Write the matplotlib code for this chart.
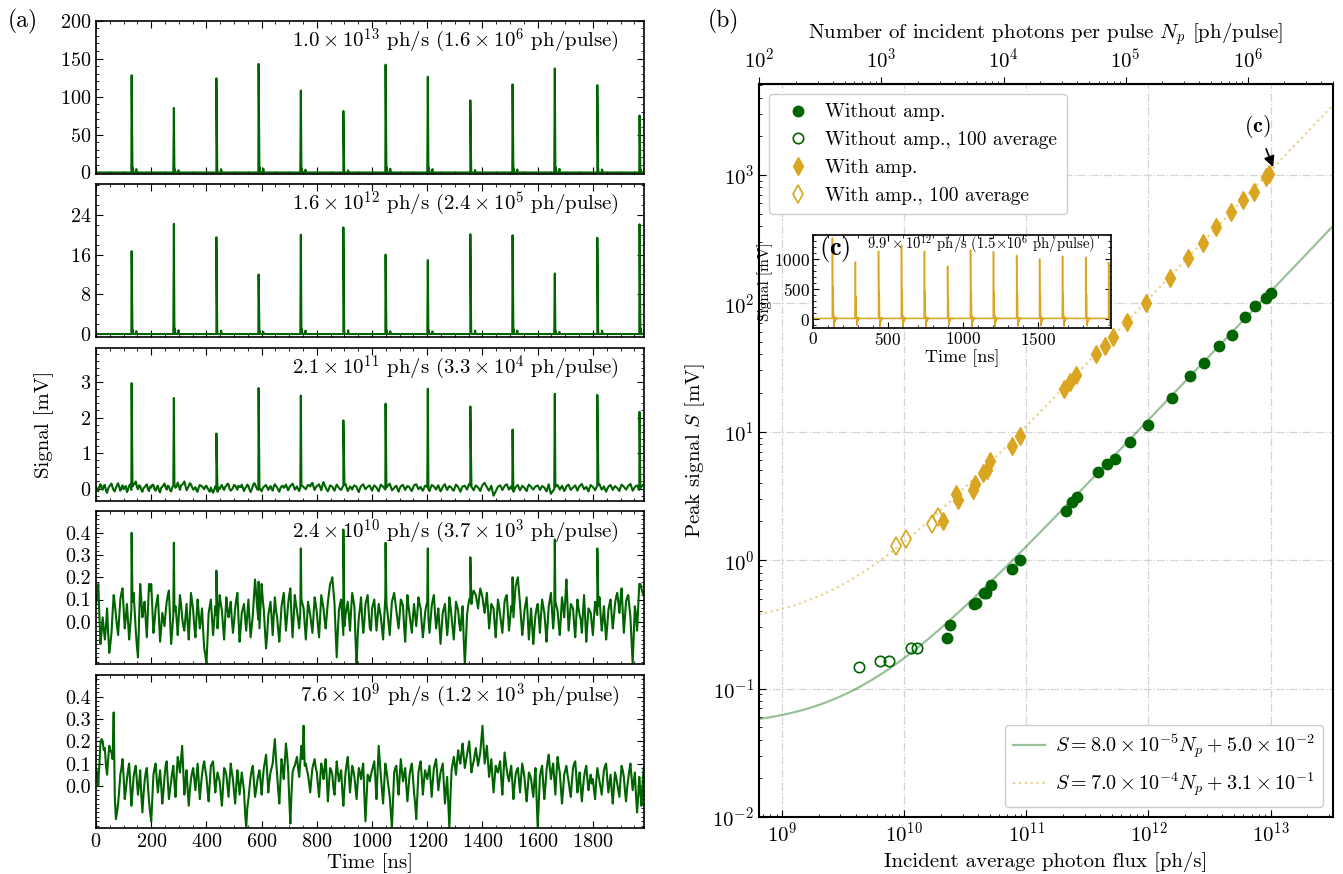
import numpy as np
import matplotlib.pyplot as plt
from matplotlib.ticker import MultipleLocator, AutoMinorLocator, FixedLocator, NullFormatter

plt.rcParams['font.family'] = 'serif'
plt.rcParams['font.serif'] = ['cmr10']
plt.rcParams['mathtext.fontset'] = 'cm'
plt.rcParams['axes.formatter.use_mathtext'] = True
plt.rcParams['axes.unicode_minus'] = False

GREEN = '#006400'
GOLD = '#daa520'

# ---------------- (a) time traces ----------------
t_end = 1985
pulse_t = [129, 282, 436, 589, 742, 896, 1049, 1202, 1356, 1509, 1662, 1816, 1969]

peaks_a = [128, 85, 124, 143, 108, 81, 142, 126, 95, 116, 137, 115, 75]
peaks_b = [16.7, 22.2, 19.5, 12.0, 20.0, 21.5, 16.0, 14.9, 20.1, 19.9, 12.2, 19.4, 22.1]
peaks_c = [2.97, 2.55, 1.55, 2.83, 2.62, 1.92, 2.39, 2.81, 2.31, 1.66, 2.67, 2.64, 2.16]
peaks_d = [0.40, 0.355, 0.23, 0.18, 0.33, 0.415, 0.355, 0.33, 0.29, 0.20, 0.37, 0.33, 0.17]

# pulse shape (offset ns, fraction of peak)
ring_dt = [0, 3, 10, 17, 22]
ring_frac = [1.0, 0.05, 0.0, 0.035, 0.0]

# baseline noise, units of 0.01 mV: samples at 0, 8, 16 ... ns and in-between samples at 4, 12 ... ns
noise_c = [5, -8, 12, -3, 10, -12, 6, 14, -5, 2, 15, -6, 9, 3, -10, 8, -4, 11, 20, -2, 7, -9, 4, 12, -7,
           3, 10, -6, 8, -11, 5, 14, -3, 6, -8, 9, 2, 17, -4, 11, 20, -5, 7, 12, -3, 4, -9, 10, 6, -2,
           8, -5, 3, -12, 6, -9, -2, 10, -4, 7, 12, -6, 2, 9, -3, 5, 11, -7, 4, 8, -10, 6, 13, -2, 3,
           -8, 5, 10, -4, 7, -6, 12, 3, -9, 6, 2, 11, -5, 8, 14, -3, 6, -7, 9, 4, -2, 10, 6, 16, -4,
           7, 12, -5, 18, 3, -8, 9, 5, -6, 11, 2, -4, 8, 13, -7, 6, -3, 9, 4, -10, 7, 12, -2, 5, 8,
           -6, 9, 3, -8, 11, 5, -3, 7, 14, -5, 2, 8, -9, 6, 10, -4, 7, 3, -7, 9, 12, -2, 5, -6, 8,
           4, -7, 10, 6, -3, 9, -8, 5, 12, -4, 7, 2, -6, 11, 4, -9, 6, 8, -3, 13, 5, -5, 9, 3, -7,
           10, 16, 4, -6, 8, -20, -8, 5, 9, -4, 7, 12, -3, 6, -9, 4, 10, -5, 8, 2, -7, 11, 5, -3, 6,
           9, -4, 7, 3, -8, 12, -15, -6, 5, 10, -3, 8, -7, 6, 11, -4, 3, 9, -6, 7, 13, -2, 5, -8, 10,
           4, -5, 8, 12, -3, 6, -9, 5, 10, -4, 7, 2, -7, 11, 5, -3, 8, 13, -6, 4, 9, -4, 6, 12]
noise_c_mid = [-3, 6, 2, 8, -6, 0, 10, 3, -8, 9, 4, 2, -2, 7, -3, 12, 6, 14, 5, 9, -4, 1, 8, -2, 6,
               11, -2, 4, -5, 2, 9, 4, 8, -4, 3, 12, 7, 6, 9, 14, 8, 1, 15, 4, 0, -5, 3, 8, 2, 6,
               1, -9, -6, -4, -1, 3, 6, 1, 5, 14, -1, -3, 10, 2, 8, 4, 2, 1, 11, -3, -2, 15, 4, -4, -3,
               1, 8, 3, 2, -1, 6, 7, -4, 1, 8, 5, 3, 2, 10, 6, 1, -2, 2, 7, 1, 5, 9, 13, 5, 3,
               9, 4, 8, 10, -3, 0, 7, -1, 4, 6, -2, 3, 11, 2, -1, 3, 5, 7, -4, 0, 9, 4, 2, 8, 0,
               3, 6, -3, 2, 8, 1, 3, 10, 4, -2, 6, -1, 0, 9, 3, 2, 6, -3, 1, 11, 5, 2, -2, 1, 7,
               -2, 2, 8, 1, 4, 0, -3, 9, 3, 2, 5, -4, 3, 8, -2, -1, 7, 2, 6, 9, 0, 3, 6, -2, 2,
               13, 9, -2, 1, -6, -14, -1, 7, 3, 1, 10, 4, 2, -2, -3, 7, 2, 1, 5, -3, 4, 8, 0, 2, 7,
               3, 1, 5, -3, 2, -4, -10, -1, 8, 4, 2, 1, -2, 9, 3, 0, 6, 1, 2, 10, 5, 1, -2, 2, 7,
               0, 2, 10, 4, 1, -2, -1, 8, 3, 2, 4, -3, 3, 8, 1, 2, 10, 4, -1, 7, 2, 1, 9]

noise_d = [8, 17, -10, 2, -8, 6, -14, -5, 12, 3, -6, 10, 15, -3, 8, -8, 5, 13, -4, -16, 17, 2, 9, -7, 17,
           17, -5, 6, 12, -9, 4, -2, 9, 14, -10, 3, 7, -6, 12, 2, -4, 8, -8, 13, 5, -7, 10, -3, 6, -12,
           -19, 4, 10, -6, 7, -3, 12, 5, -8, 11, 2, 9, -5, 6, 13, -9, 4, 8, -4, 10, -7, 3, 19, 6, -3,
           17, 5, -12, 3, 9, -6, 11, 2, -9, 7, 13, -4, 8, 15, -7, 12, 5, -3, 10, 6, -8, 9, 3, -5, 11,
           4, -7, 12, 6, -3, 9, 17, 20, 8, -16, 5, 10, -6, 3, 9, -4, 13, 7, -19, 2, 11, -5, 8, 12, -3,
           6, 10, -4, 8, 2, -8, 11, 4, -6, 9, 13, 5, -3, 10, 7, -9, 12, 3, -5, 8, -2, 11, 6, -7, 4,
           9, -5, 7, 12, -3, 6, -10, 4, 8, -6, 11, 2, -8, 9, 5, -4, 7, -19, 3, 10, 8, 14, 12, 6, 15,
           11, 4, 13, -3, 8, 6, -7, 10, 3, -5, 9, 12, -4, 7, 2, 16, 20, 8, -6, 5, 11, -8, 6, -10, 3,
           8, -5, 10, 4, -9, 7, 13, -3, 9, 5, -6, 11, 2, 19, -4, 8, 6, -7, 10, 3, -5, 12, -9, 6, 4,
           -6, 9, 3, 11, -4, 7, -8, 5, 10, -3, 8, 13, 4, 15, -5, 9, 12, 2, -19, 7, -4, 17, 15, 12]
noise_d_mid = [12, 3, -5, -3, -2, -5, -10, 4, 8, -2, 2, 13, 6, 2, 0, -2, 9, 5, -11, 1, 10, 6, 1, 5, 14,
               6, 0, 9, 2, -3, 1, 4, 12, 2, -4, 5, 1, 3, 8, -2, 2, -1, 3, 9, -2, 2, 4, 1, -4, -15,
               -8, 7, 2, 0, 3, 5, 8, -2, 2, 6, 5, 1, 0, 10, 2, -3, 6, 2, 3, 1, -2, 11, 13, 1, 7,
               10, -4, -6, 6, 2, 3, 5, -4, -1, 10, 4, 2, 12, 3, 2, 8, 1, 4, 8, -1, 0, 6, -1, 3, 8,
               -2, 3, 9, 1, 3, 13, 18, 14, -5, -4, 8, 2, -2, 6, 3, 5, 10, -8, -6, 6, 2, 0, 10, 4, -4,
               8, 3, 2, 5, -3, 2, 8, -1, 2, 11, 9, 1, 3, 9, -2, 1, 7, -1, 2, 3, 4, 8, -1, -2, 7,
               2, 1, 10, 4, 1, -2, -3, 6, 1, -1, 7, -3, 0, 7, -1, 2, -8, -9, 7, 11, 12, 13, 9, 11, 13,
               7, 9, 5, 2, 7, -1, 2, 7, -1, 2, 11, 4, 1, 5, 9, 18, 14, 1, -1, 8, 2, -1, -2, -3, 6,
               2, 3, 7, -2, -1, 10, 5, 3, 7, -1, 2, 7, 10, 8, 2, 7, -1, 2, 6, 1, 4, 2, -1, 5, -1,
               2, 6, 7, 3, 1, -1, -2, 8, 3, 2, 11, 9, 10, 5, 2, 11, 7, -8, -6, 3, 6, 17, 13]

noise_e = [8, 0, 19, 20, 17, 5, 18, 15, 33, -15, -8, 5, 12, -6, 3, 10, -9, 4, 9, -4, 7, -12, 2, 8, -7,
           -16, 5, 10, -3, 7, -8, 4, 11, -6, 2, 9, -5, 13, 6, 18, -4, 7, -9, 3, 8, -2, 10, -6, 5, 11,
           4, -7, 9, 11, -3, 6, 2, -9, 8, 5, -5, 10, 3, -8, 7, -4, 6, -2, -19, -6, 4, 9, -5, 2, 7,
           -4, 8, 14, -3, 6, 10, 21, 5, -8, 12, 3, 19, 7, -17, 6, 9, 13, 4, 18, 27, 10, 5, -3, 8, 12,
           6, -5, 10, 3, 12, -7, 8, 5, -4, 11, 2, 7, -9, 6, 13, -3, 9, 4, -6, 8, 3, 10, -16, 5, 2,
           7, 11, -6, 18, 4, -8, 10, 3, -5, -19, 6, 9, -4, 12, 2, 8, -7, 5, 10, -3, -15, 6, 11, -4, 7,
           3, 9, -5, 8, 12, -2, 6, 10, -8, 4, -19, 7, 13, 5, 16, 10, 19, 8, 14, 20, 6, 11, 17, 9, 15,
           27, 10, 18, 4, 12, -3, 9, 6, 11, -4, 15, 7, 2, 9, -6, 5, 8, -3, 10, 4, -7, 6, 3, -5, 8,
           -19, 4, 9, -6, 7, 14, 3, 10, -4, 13, 6, -8, 5, 9, 2, -5, 8, 11, -3, 6, -7, 4, 9, -2, 5,
           3, -6, 8, 2, -4, 7, 10, -3, 5, -8, 6, 1, -5, 9, 4, -7, 3, 10, -2, 6, -12, 4, -9, 8]
noise_e_mid = [5, 10, 21, 16, 9, 12, 16, 12, -5, -12, -2, 8, 4, -2, 7, 1, -3, 7, 2, 1, -4, -4, 6, 0, -12,
               -6, 8, 3, 2, 0, -3, 9, 2, -2, 6, 1, 5, 10, 12, 7, 2, -2, -2, 6, 3, 4, 2, 0, 9, 7,
               -2, 1, 10, 4, 2, 4, -4, -1, 7, 0, 3, 6, -3, 0, 2, 1, 2, -12, -10, -1, 7, 2, -2, 5, 2,
               3, 11, 6, 2, 8, 16, 12, -2, 2, 8, 11, 14, -6, -4, 8, 11, 8, 11, 12, 9, 7, 1, 3, 10, 8,
               0, 3, 7, 8, 3, 1, 7, -1, 4, 6, 5, -2, -1, 10, 5, 3, 7, -1, 2, 6, 7, -4, -6, 4, 5,
               9, 3, 6, 11, -2, 1, 7, -1, -12, -7, 8, 2, 4, 7, 5, 0, -1, 8, 4, -8, -4, 9, 4, 2, 5,
               6, 2, 2, 10, 5, 2, 8, 1, -2, -8, -5, 10, 9, 11, 12, 15, 13, 11, 17, 13, 9, 14, 13, 12, 21,
               18, 14, 11, 8, 4, 3, 7, 9, 3, 5, 11, 4, 6, 2, 0, 7, 3, 4, 7, -2, -1, 5, -1, 2, -6,
               -7, 7, 1, 0, 11, 8, 7, 3, 5, 9, -1, -2, 7, 5, -2, 2, 10, 4, 2, -1, -1, 7, 3, 2, 1,
               -2, 2, 5, -1, 2, 9, 3, 1, -2, -1, 4, -2, 3, 7, -2, -1, 7, 4, 2, -4, -5, -3, 1]

labels_a = [r'$1.0\times10^{13}$ ph/s ($1.6\times10^{6}$ ph/pulse)',
            r'$1.6\times10^{12}$ ph/s ($2.4\times10^{5}$ ph/pulse)',
            r'$2.1\times10^{11}$ ph/s ($3.3\times10^{4}$ ph/pulse)',
            r'$2.4\times10^{10}$ ph/s ($3.7\times10^{3}$ ph/pulse)',
            r'$7.6\times10^{9}$ ph/s ($1.2\times10^{3}$ ph/pulse)']

# ---------------- (b) peak signal vs flux ----------------
f_rep = 6.5e6  # pulses per second

flux_noamp = [2.24e10, 2.35e10, 3.75e10, 3.85e10, 4.46e10, 4.7e10, 5.1e10, 7.6e10, 8.9e10,
              2.1e11, 2.35e11, 2.6e11, 3.87e11, 4.57e11, 5.36e11, 7.0e11, 9.84e11,
              1.55e12, 2.2e12, 2.87e12, 3.77e12, 4.86e12, 6.23e12, 7.5e12, 9.2e12, 1.01e13]
sig_noamp = [0.248, 0.31, 0.454, 0.46, 0.556, 0.556, 0.638, 0.86, 1.0,
             2.42, 2.83, 3.08, 4.82, 5.6, 6.1, 8.26, 11.3,
             18.3, 27.3, 34, 46.2, 57, 78.3, 94.8, 110, 121]

flux_noamp_avg = [4.29e9, 6.27e9, 7.47e9, 1.14e10, 1.28e10]
sig_noamp_avg = [0.146, 0.164, 0.164, 0.207, 0.207]

flux_amp = [2.09e10, 2.67e10, 2.77e10, 3.63e10, 3.78e10, 4.45e10, 4.75e10, 5.0e10, 7.6e10, 8.9e10,
            2.03e11, 2.27e11, 2.54e11, 3.72e11, 4.4e11, 5.15e11, 6.7e11, 9.5e11,
            1.49e12, 2.11e12, 2.81e12, 3.6e12, 4.71e12, 5.97e12, 7.28e12, 9.1e12, 9.8e12]
sig_amp = [2.0, 3.25, 2.94, 3.51, 3.91, 4.75, 5.08, 5.92, 7.7, 9.2,
           21.6, 24.6, 27.5, 40.3, 46.2, 54.6, 71, 100,
           157, 224, 297, 391, 512, 642, 733, 970, 1018]

flux_amp_avg = [8.54e9, 1.04e10, 1.69e10, 1.88e10]
sig_amp_avg = [1.29, 1.45, 1.91, 2.15]

fit_noamp = (8.0e-5, 5.0e-2)
fit_amp = (7.0e-4, 3.1e-1)

# inset (c): 9.9e12 ph/s with amplifier
peaks_inset = [1350, 950, 1130, 1230, 1130, 880, 1150, 1120, 1060, 1000, 1050, 1030, 940]
inset_base = 10
inset_dt = [0, 2, 5, 7, 10, 15, 22, 30]
inset_frac = [1.0, 0.15, 0.4, 0.05, -0.11, -0.04, 0.02, 0.0]

t_grid = np.arange(0, t_end, 4)


def interleave(even, odd):
    out = np.empty(len(t_grid))
    out[0::2] = even
    out[1::2] = odd
    return out * 0.01


def build_trace(base, heights, shape_dt, shape_frac):
    t = list(t_grid)
    y = list(base)
    for tk, h in zip(pulse_t, heights):
        for dt, fr in zip(shape_dt, shape_frac):
            t.append(tk + dt)
            y.append(h * fr)
    t = np.array(t, dtype=float)
    y = np.array(y, dtype=float)
    order = np.argsort(t, kind='stable')
    return t[order], y[order]


n_grid = len(t_grid)
traces = [
    build_trace(np.zeros(n_grid), peaks_a, ring_dt, ring_frac),
    build_trace(np.zeros(n_grid), peaks_b, ring_dt, ring_frac),
    build_trace(interleave(noise_c, noise_c_mid), peaks_c, [0], [1.0]),
    build_trace(interleave(noise_d, noise_d_mid), peaks_d, [0], [1.0]),
    (t_grid, interleave(noise_e, noise_e_mid)),
]
ylims = [(-2, 200), (-0.6, 30.3), (-0.35, 3.97), (-0.19, 0.5), (-0.19, 0.5)]
ymajor = [50, 8, 1, 0.1, 0.1]
label_y = [0.87, 0.87, 0.865, 0.86, 0.86]

fig = plt.figure(figsize=(13.43, 8.74), dpi=100)

bottoms = [0.8009, 0.6144, 0.4268, 0.2403, 0.0526]
axes_a = []
for i in range(5):
    a = fig.add_axes([0.0715, bottoms[i], 0.408, 0.1755])
    tt, yy = traces[i]
    a.plot(tt, yy, color=GREEN, lw=1.5)
    a.set_xlim(0, t_end)
    a.set_ylim(*ylims[i])
    a.xaxis.set_major_locator(MultipleLocator(200))
    a.xaxis.set_minor_locator(AutoMinorLocator(4))
    if i >= 3:
        a.yaxis.set_major_locator(FixedLocator([0.0, 0.1, 0.2, 0.3, 0.4]))
        a.yaxis.set_major_formatter(plt.FuncFormatter(lambda v, p: f'{v:.1f}'))
        a.yaxis.set_minor_locator(MultipleLocator(0.02))
    else:
        a.yaxis.set_major_locator(MultipleLocator(ymajor[i]))
        a.yaxis.set_minor_locator(AutoMinorLocator(4 if i == 1 else 5))
    a.tick_params(which='both', direction='in', top=True, right=True, labelsize=14.5)
    a.tick_params(which='major', length=5)
    a.tick_params(which='minor', length=2.5)
    if i < 4:
        a.tick_params(labelbottom=False)
    for s in a.spines.values():
        s.set_linewidth(1.2)
    a.text(0.955, label_y[i], labels_a[i], transform=a.transAxes, ha='right', va='center',
           fontsize=15)
    axes_a.append(a)

axes_a[-1].set_xlabel('Time [ns]', fontsize=15, labelpad=2)
fig.text(0.033, 0.515, 'Signal [mV]', rotation=90, ha='center', va='center', fontsize=15)
fig.text(0.006, 0.975, '(a)', fontsize=17, ha='left', va='center')
fig.text(0.527, 0.975, '(b)', fontsize=17, ha='left', va='center')

# ---------------- right panel ----------------
ax = fig.add_axes([0.5652, 0.0652, 0.4274, 0.8387])
ax.set_xscale('log')
ax.set_yscale('log')
xmin, xmax = 6.47e8, 3.25e13
ax.set_xlim(xmin, xmax)
ax.set_ylim(1e-2, 5.1e3)
ax.set_axisbelow(True)
ax.grid(True, which='major', ls='-.', color='#d4d4d4', lw=0.9)

xf = np.logspace(np.log10(xmin), np.log10(xmax), 300)
fit1, = ax.plot(xf, fit_noamp[0] * xf / f_rep + fit_noamp[1], color=GREEN, alpha=0.4, lw=1.6,
                label=r'$S = 8.0\times10^{-5}N_p + 5.0\times10^{-2}$')
fit2, = ax.plot(xf, fit_amp[0] * xf / f_rep + fit_amp[1], color=GOLD, alpha=0.5, lw=1.6, ls=':',
                label=r'$S = 7.0\times10^{-4}N_p + 3.1\times10^{-1}$')

h1, = ax.plot(flux_noamp, sig_noamp, 'o', color=GREEN, ms=7.5, ls='none', label='Without amp.')
h2, = ax.plot(flux_noamp_avg, sig_noamp_avg, 'o', mfc='none', mec=GREEN, mew=1.2, ms=7.5,
              ls='none', label='Without amp., 100 average')
h3, = ax.plot(flux_amp, sig_amp, 'd', color=GOLD, ms=9, ls='none', label='With amp.')
h4, = ax.plot(flux_amp_avg, sig_amp_avg, 'd', mfc='none', mec=GOLD, mew=1.2, ms=9,
              ls='none', label='With amp., 100 average')

leg1 = ax.legend(handles=[h1, h2, h3, h4], loc='upper left', fontsize=14, framealpha=1,
                 edgecolor='#cccccc', handletextpad=0.4, borderpad=0.5, labelspacing=0.5)
ax.add_artist(leg1)
ax.legend(handles=[fit1, fit2], loc='lower right', fontsize=14.5, framealpha=1,
          edgecolor='#cccccc', handlelength=1.6, handletextpad=0.5)

ax.annotate(r'$\mathbf{(c)}$', xy=(1.05e13, 1.15e3), xytext=(7.8e12, 2.4e3),
            ha='center', va='center', fontsize=16,
            arrowprops=dict(arrowstyle='-|>', color='black', lw=1.2, shrinkA=5, shrinkB=0))

ax.set_xlabel('Incident average photon flux [ph/s]', fontsize=15)
ax.set_ylabel(r'Peak signal $S$ [mV]', fontsize=15)
ax.tick_params(which='both', direction='in', labelsize=15)
ax.tick_params(which='major', length=5)
ax.tick_params(which='minor', length=2.5)
for s in ax.spines.values():
    s.set_linewidth(1.5)

secax = ax.secondary_xaxis('top', functions=(lambda x: x / f_rep, lambda n: n * f_rep))
secax.set_xticks([1e2, 1e3, 1e4, 1e5, 1e6])
secax.xaxis.set_minor_formatter(NullFormatter())
secax.set_xlabel(r'Number of incident photons per pulse $N_p$ [ph/pulse]', fontsize=15,
                 labelpad=7)
secax.tick_params(which='both', direction='out', labelsize=15)
secax.tick_params(which='major', length=5)
secax.tick_params(which='minor', length=2.5)

# ---------------- inset (c) ----------------
axin = fig.add_axes([0.6054, 0.6247, 0.2219, 0.1064])
ti, yi = build_trace(np.full(n_grid, inset_base), peaks_inset, inset_dt, inset_frac)
axin.plot(ti, yi, color=GOLD, lw=1.1)
axin.set_xlim(0, t_end)
axin.set_ylim(-150, 1400)
axin.xaxis.set_major_locator(MultipleLocator(500))
axin.xaxis.set_minor_locator(AutoMinorLocator(5))
axin.yaxis.set_major_locator(MultipleLocator(500))
axin.yaxis.set_minor_locator(AutoMinorLocator(5))
axin.tick_params(which='both', direction='in', top=True, right=True, labelsize=12.5, pad=2)
axin.tick_params(which='major', length=4)
axin.tick_params(which='minor', length=2)
axin.set_xlabel('Time [ns]', fontsize=13, labelpad=1)
axin.set_ylabel('Signal [mV]', fontsize=11, labelpad=1)
axin.text(0.02, 0.86, r'$\mathbf{(c)}$', transform=axin.transAxes, fontsize=19,
          ha='left', va='center')
axin.text(0.945, 0.9, r'$9.9\;\times10^{12}$ ph/s ($1.5{\times}10^{6}$ ph/pulse)',
          transform=axin.transAxes, ha='right', va='center', fontsize=10.5)
for s in axin.spines.values():
    s.set_linewidth(1.2)

fig.savefig('out.png', dpi=100)
